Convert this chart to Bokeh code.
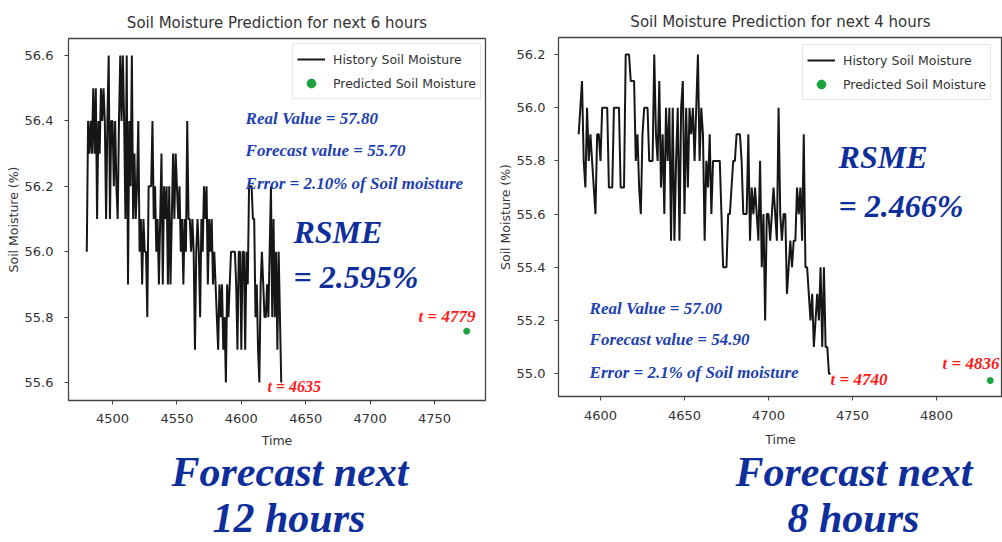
from bokeh.plotting import figure
from bokeh.models import Range1d, FixedTicker, PrintfTickFormatter, Label
from bokeh.layouts import row, column
from bokeh.embed import file_html
from bokeh.resources import INLINE

# ---------------- data ----------------
left_start = 4480
left_soil = [
    56.0, 56.4, 56.3, 56.4, 56.3, 56.5, 56.3, 56.5, 56.1, 56.4,
    56.3, 56.5, 56.4, 56.5, 56.4, 56.1, 56.4, 56.6, 56.1, 56.4,
    56.4, 56.2, 56.4, 56.2, 56.1, 56.4, 56.6, 56.4, 56.6, 56.4,
    56.1, 56.6, 55.9, 56.4, 56.2, 56.6, 56.1, 56.3, 56.1, 56.2,
    56.4, 56.0, 56.1, 55.9, 56.1, 56.0, 56.0, 55.8, 56.2, 56.2,
    56.2, 56.4, 56.1, 56.2, 56.0, 56.1, 55.9, 56.1, 56.3, 55.9,
    56.2, 56.1, 56.2, 55.9, 56.2, 55.9, 56.1, 56.3, 56.1, 56.3,
    56.2, 56.1, 56.2, 56.0, 56.1, 55.9, 56.1, 56.0, 56.4, 56.1,
    56.1, 56.0, 56.1, 56.0, 55.7, 56.0, 56.1, 56.0, 55.8, 56.1,
    56.0, 56.2, 56.1, 56.2, 55.9, 56.1, 56.0, 56.1, 55.9, 56.0,
    55.9, 55.8, 55.7, 55.9, 55.8, 55.9, 55.7, 55.8, 55.6, 55.9,
    55.8, 55.9, 56.0, 56.0, 56.0, 56.0, 55.9, 55.7, 56.0, 56.0,
    55.7, 56.0, 56.0, 55.7, 56.0, 55.9, 56.2, 56.2, 56.2, 56.1,
    56.1, 55.8, 55.9, 55.7, 55.6, 55.9, 56.0, 55.9, 55.8, 55.8,
    55.9, 55.8, 56.0, 56.2, 55.8, 56.1, 55.8, 56.0, 55.7, 56.0,
    55.8, 55.6,
]
left_time = list(range(left_start, left_start + len(left_soil)))
left_pred_time = [4775]
left_pred_value = [55.757]
left_yticks = [55.6, 55.8, 56.0, 56.2, 56.4, 56.6]
left_xticks = [4500, 4550, 4600, 4650, 4700, 4750]

right_start = 4587
right_soil = [
    55.9, 56.0, 56.1, 55.8, 55.7, 56.0, 55.8, 55.9, 55.8, 55.7,
    55.6, 55.9, 55.9, 55.8, 56.0, 56.0, 56.0, 56.0, 55.7, 55.7,
    55.7, 56.0, 56.0, 56.0, 56.0, 55.7, 55.7, 55.7, 56.2, 56.2,
    56.2, 56.1, 56.1, 56.1, 55.8, 55.9, 55.7, 55.6, 55.9, 56.0,
    56.0, 56.0, 55.8, 55.8, 55.8, 56.2, 55.9, 55.8, 56.1, 55.7,
    55.9, 55.6, 56.0, 55.8, 56.0, 55.5, 56.0, 55.5, 55.8, 56.0,
    55.5, 56.0, 56.1, 55.6, 56.0, 55.7, 56.0, 55.9, 56.0, 55.8,
    56.0, 56.2, 55.8, 56.0, 55.9, 55.5, 55.8, 55.7, 55.9, 55.6,
    55.8, 55.8, 55.8, 55.8, 55.8, 55.6, 55.4, 55.4, 55.4, 55.6,
    55.6, 55.7, 55.8, 55.8, 55.9, 55.9, 55.9, 55.8, 55.6, 55.6,
    55.6, 55.9, 55.5, 55.7, 55.6, 55.7, 55.6, 55.5, 55.8, 55.4,
    55.6, 55.2, 55.6, 55.6, 55.5, 55.6, 55.7, 55.6, 55.5, 56.0,
    55.6, 55.5, 55.6, 55.6, 55.3, 55.4, 55.5, 55.4, 55.5, 55.5,
    55.7, 55.6, 55.7, 55.5, 55.9, 55.4, 55.4, 55.3, 55.2, 55.3,
    55.1, 55.2, 55.3, 55.2, 55.4, 55.1, 55.4, 55.1, 55.1, 55.0,
    55.0,
]
right_time = list(range(right_start, right_start + len(right_soil)))
right_pred_time = [4832]
right_pred_value = [54.974]
right_yticks = [55.0, 55.2, 55.4, 55.6, 55.8, 56.0, 56.2]
right_xticks = [4600, 4650, 4700, 4750, 4800]

titles = ["Soil Moisture Prediction for next 6 hours",
          "Soil Moisture Prediction for next 4 hours"]
left_notes = ["Real Value = 57.80", "Forecast value  = 55.70",
              "Error = 2.10% of Soil moisture"]
right_notes = ["Real Value = 57.00", "Forecast value  = 54.90",
               "Error = 2.1% of Soil moisture"]
left_rsme = ["RSME", "= 2.595%"]
right_rsme = ["RSME", "= 2.466%"]
left_tlabels = ["t = 4635", "t = 4779"]
right_tlabels = ["t = 4740", "t = 4836"]
left_big = ["Forecast next", "12 hours"]
right_big = ["Forecast next", "8 hours"]

SANS = "DejaVu Sans"
SERIF = "Liberation Serif"
BLUE = "#1d40b0"
DARKBLUE = "#0e2f9b"
RED = "#ff1a1a"
GREEN = "#1aa33e"

TOTAL_H = 542
W1, W2 = 494, 508
H1, H2 = 450, 450        # plot figure heights (left, right)
FRAME1 = (68, 485)       # horizontal frame extents in page pixels
FRAME2 = (558, 1002)


def make_panel(width, height, xr, yr, borders, title, ystand, xstand):
    p = figure(width=width, height=height, x_range=Range1d(*xr), y_range=Range1d(*yr),
               output_backend="svg", toolbar_location=None, title=title,
               x_axis_label="Time", y_axis_label="Soil Moisture (%)")
    p.min_border_left, p.min_border_right, p.min_border_top, p.min_border_bottom = borders
    p.title.align = "center"
    p.title.text_font = SANS
    p.title.text_font_size = "15px"
    p.title.text_font_style = "normal"
    p.title.text_color = "#333333"
    p.title.standoff = 14
    p.xgrid.visible = False
    p.ygrid.visible = False
    p.outline_line_color = "#444444"
    p.outline_line_width = 1.3
    p.background_fill_color = "white"
    p.border_fill_color = "white"
    for ax in (p.xaxis[0], p.yaxis[0]):
        ax.axis_line_color = None
        ax.major_tick_line_color = "#444444"
        ax.major_tick_in = 0
        ax.major_tick_out = 4
        ax.minor_tick_line_color = None
        ax.major_label_text_font = SANS
        ax.major_label_text_font_size = "13px"
        ax.major_label_text_color = "#333333"
        ax.axis_label_text_font = SANS
        ax.axis_label_text_font_size = "12.5px"
        ax.axis_label_text_font_style = "normal"
        ax.axis_label_text_color = "#333333"
    p.yaxis[0].major_label_standoff = ystand[0]
    p.yaxis[0].axis_label_standoff = ystand[1]
    p.xaxis[0].major_label_standoff = xstand[0]
    p.xaxis[0].axis_label_standoff = xstand[1]
    p.yaxis[0].formatter = PrintfTickFormatter(format="%.1f")
    return p


def make_text_panel(width, height, frame, borders):
    # the column aligns this frame with the plot frame above it,
    # so the x range is expressed in page pixels of that frame
    t = figure(width=width, height=height, x_range=Range1d(*frame), y_range=Range1d(0, height),
               output_backend="svg", toolbar_location=None, title=None)
    t.min_border_left, t.min_border_right = borders
    t.min_border_top = t.min_border_bottom = 0
    t.axis.visible = False
    t.grid.visible = False
    t.outline_line_color = None
    t.background_fill_color = "white"
    t.border_fill_color = "white"
    return t


def add_label(p, x, y, text, size, color, align="left"):
    p.add_layout(Label(x=x, y=y, text=text, text_font=SERIF, text_font_size=size,
                       text_font_style="bold italic", text_color=color,
                       text_align=align, text_baseline="middle"))


def style_legend(p, loc):
    lg = p.legend[0]
    lg.location = loc
    lg.label_text_font = SANS
    lg.label_text_font_size = "12.5px"
    lg.label_text_color = "#333333"
    lg.border_line_color = "#d0d0d0"
    lg.background_fill_alpha = 0.9
    lg.padding = 4
    lg.spacing = 2
    lg.margin = 0
    lg.glyph_width = 28
    lg.glyph_height = 22
    lg.label_standoff = 8
    lg.label_height = 20


# ---------------- left panel ----------------
p1 = make_panel(W1, H1, (4465.8, 4789.6), (55.545, 56.652), (68, 9, 38, H1 - 401), titles[0],
                (11, 1), (9, 7))
p1.yaxis[0].ticker = FixedTicker(ticks=left_yticks)
p1.xaxis[0].ticker = FixedTicker(ticks=left_xticks)
p1.line(left_time, left_soil, line_color="#161616", line_width=2.0,
        legend_label="History Soil Moisture")
p1.scatter(left_pred_time, left_pred_value, size=6, color=GREEN,
           legend_label="Predicted Soil Moisture")
style_legend(p1, (224, 301))

add_label(p1, 4603.3, 56.408, left_notes[0], "17px", BLUE)
add_label(p1, 4603.3, 56.310, left_notes[1], "17px", BLUE)
add_label(p1, 4603.3, 56.210, left_notes[2], "17px", BLUE)
add_label(p1, 4640.5, 56.060, left_rsme[0], "32px", DARKBLUE)
add_label(p1, 4640.5, 55.923, left_rsme[1], "32px", DARKBLUE)
add_label(p1, 4620.3, 55.588, left_tlabels[0], "16px", RED)
add_label(p1, 4737.6, 55.801, left_tlabels[1], "17px", RED)

t1 = make_text_panel(W1, TOTAL_H - H1, FRAME1, (68, 9))
add_label(t1, 171, TOTAL_H - 471, left_big[0], "42px", DARKBLUE)
add_label(t1, 212, TOTAL_H - 517, left_big[1], "42px", DARKBLUE)

# ---------------- right panel ----------------
p2 = make_panel(W2, H2, (4575.0, 4839.3), (54.914, 56.264), (64, 0, 37, H2 - 396), titles[1],
                (9, 1), (10, 9))
p2.yaxis[0].ticker = FixedTicker(ticks=right_yticks)
p2.xaxis[0].ticker = FixedTicker(ticks=right_xticks)
p2.line(right_time, right_soil, line_color="#161616", line_width=2.0,
        legend_label="History Soil Moisture")
p2.scatter(right_pred_time, right_pred_value, size=6, color=GREEN,
           legend_label="Predicted Soil Moisture")
style_legend(p2, (244, 296))

add_label(p2, 4593.5, 55.245, right_notes[0], "17px", BLUE)
add_label(p2, 4593.5, 55.129, right_notes[1], "17px", BLUE)
add_label(p2, 4593.5, 55.005, right_notes[2], "17px", BLUE)
add_label(p2, 4741.7, 55.813, right_rsme[0], "32px", DARKBLUE)
add_label(p2, 4741.7, 55.632, right_rsme[1], "32px", DARKBLUE)
add_label(p2, 4736.9, 54.978, right_tlabels[0], "17px", RED)
add_label(p2, 4803.6, 55.038, right_tlabels[1], "17px", RED)

t2 = make_text_panel(W2, TOTAL_H - H2, FRAME2, (64, 0))
add_label(t2, 735, TOTAL_H - 471, right_big[0], "42px", DARKBLUE)
add_label(t2, 787, TOTAL_H - 517, right_big[1], "42px", DARKBLUE)

layout = row(column(p1, t1), column(p2, t2))
open("out.html", "w").write(file_html(layout, INLINE))
